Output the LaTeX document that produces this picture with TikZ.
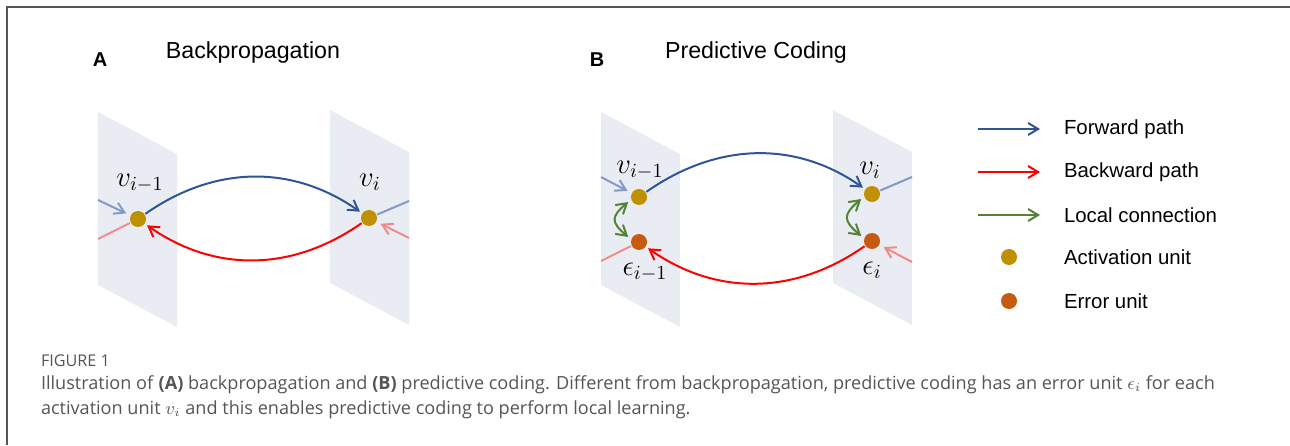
\documentclass[tikz,border=0pt]{standalone}
\usepackage{fontspec}
\newfontfamily\arialfont{Liberation Sans}
\newfontfamily\capfont{Open Sans}
\usetikzlibrary{arrows.meta,calc,positioning}

\definecolor{planegray}{HTML}{E9ECF2}
\definecolor{fwdblue}{HTML}{2F5597}
\definecolor{fwdlight}{HTML}{8499C7}
\definecolor{bwdred}{HTML}{FF0000}
\definecolor{bwdlight}{HTML}{F08A8A}
\definecolor{locgreen}{HTML}{548235}
\definecolor{actgold}{HTML}{BF9000}
\definecolor{errorange}{HTML}{C55A11}
\definecolor{framegray}{HTML}{555555}
\definecolor{capgray}{HTML}{555555}

% one layer drawn as a slanted sheet, #1 = left edge, #2 = top corner
\newcommand{\layersheet}[2]{\fill[planegray] (#1,#2) -- ++(79,-42) -- ++(0,-173) -- ++(-79,42) -- cycle;}

\begin{document}
\begin{tikzpicture}[x=0.5pt, y=0.5pt, line width=1pt,
    >={Straight Barb[length=5pt,width=6pt]},
    act/.style={circle, fill=actgold, inner sep=0pt, minimum size=8pt},
    err/.style={circle, fill=errorange, inner sep=0pt, minimum size=8pt},
    varlabel/.style={font=\fontsize{14}{16}\selectfont},
    tag/.style={font=\arialfont\bfseries\fontsize{10}{12}\selectfont},
    title/.style={font=\arialfont\fontsize{11.6}{14}\selectfont},
    legtext/.style={font=\arialfont\fontsize{10.2}{12}\selectfont, anchor=west, inner sep=0pt},
    fwd/.style={->, fwdblue, shorten >=1pt},
    bwd/.style={->, bwdred, shorten >=1pt},
    loc/.style={<->, locgreen, shorten >=1.5pt, shorten <=1.5pt},
    fwdin/.style={->, fwdlight, shorten >=2pt},
    fwdout/.style={fwdlight},
    bwdin/.style={->, bwdlight, shorten >=2pt},
    bwdout/.style={bwdlight},
    capstyle/.style={font=\capfont\fontsize{9.05}{12.5}\selectfont, text=capgray, anchor=base west, inner sep=0pt}]

    \useasboundingbox (0,0) rectangle (1290,445);
    \draw[framegray] (7,0) -- (7,438) -- (1290,438);

    % layers
    \layersheet{98}{333}
    \layersheet{330}{335}
    \layersheet{601}{333}
    \layersheet{833}{335}

    % (A) backpropagation
    \node[tag]   (tagA)   at (100,385) {A};
    \node[title] (titleA) at (253,392) {Backpropagation};

    \node[act] (av1) at (138,226) {};
    \node[act] (av2) at (369,227) {};
    \node[varlabel] (av1l) at (140,262) {$v_{i-1}$};
    \node[varlabel] (av2l) at (370,263) {$v_i$};

    \coordinate (ain)  at (98,245);
    \coordinate (aout) at (98,206);
    \coordinate (bout) at (409,244);
    \coordinate (bin)  at (409,207);

    \draw[fwdin]  (ain) -- (av1);
    \draw[bwdout] (av1) -- (aout);
    \draw[fwdout] (av2) -- (bout);
    \draw[bwdin]  (bin) -- (av2);

    \draw[fwd] (av1) to[out=35,in=145] (av2);
    \draw[bwd] (av2) to[out=215,in=-35] (av1);

    % (B) predictive coding
    \node[tag]   (tagB)   at (597,385) {B};
    \node[title] (titleB) at (756,392) {Predictive Coding};

    \node[act] (bv1) at (639,248) {};
    \node[err] (be1) at (639,203) {};
    \node[act] (bv2) at (872,251) {};
    \node[err] (be2) at (872,204) {};
    \node[varlabel] (bv1l) at (640,275) {$v_{i-1}$};
    \node[varlabel] (be1l) at (645,173) {$\epsilon_{i-1}$};
    \node[varlabel] (bv2l) at (870,275) {$v_i$};
    \node[varlabel] (be2l) at (872,175) {$\epsilon_i$};

    \coordinate (cin)  at (601,268);
    \coordinate (cout) at (601,184);
    \coordinate (dout) at (912,268);
    \coordinate (din)  at (912,183);

    \draw[fwdin]  (cin) -- (bv1);
    \draw[bwdout] (be1) -- (cout);
    \draw[fwdout] (bv2) -- (dout);
    \draw[bwdin]  (din) -- (be2);

    \draw[fwd] (bv1) to[out=35,in=145] (bv2);
    \draw[bwd] (be2) to[out=215,in=-35] (be1);
    \draw[loc] (bv1.200) to[out=220,in=140,looseness=1.7] (be1.160);
    \draw[loc] (bv2.200) to[out=220,in=140,looseness=1.7] (be2.160);

    % legend
    \node[legtext] (lfwd) at (1063,316) {Forward path};
    \node[legtext] (lbwd) at (1063,273) {Backward path};
    \node[legtext] (lloc) at (1063,230) {Local connection};
    \node[legtext] (lact) at (1063,188) {Activation unit};
    \node[legtext] (lerr) at (1063,144) {Error unit};

    \coordinate (lf0) at (978,316); \coordinate (lf1) at (1040,316);
    \coordinate (lb0) at (978,273); \coordinate (lb1) at (1040,273);
    \coordinate (ll0) at (978,230); \coordinate (ll1) at (1040,230);
    \draw[->, fwdblue] (lf0) -- (lf1);
    \draw[->, bwdred]  (lb0) -- (lb1);
    \draw[->, locgreen] (ll0) -- (ll1);
    \node[act] (lactdot) at (1009,188) {};
    \node[err] (lerrdot) at (1009,144) {};

    % caption
    \node[capstyle, font=\capfont\fontsize{8.1}{10}\selectfont] (capfig) at (40,79) {FIGURE 1};
    \node[capstyle] (cap1) at (40,56) {Illustration of \textbf{(A)} backpropagation and \textbf{(B)} predictive coding. Different from backpropagation, predictive coding has an error unit $\epsilon_i$ for each};
    \node[capstyle] (cap2) at (40,31) {activation unit $v_i$ and this enables predictive coding to perform local learning.};
\end{tikzpicture}
\end{document}
